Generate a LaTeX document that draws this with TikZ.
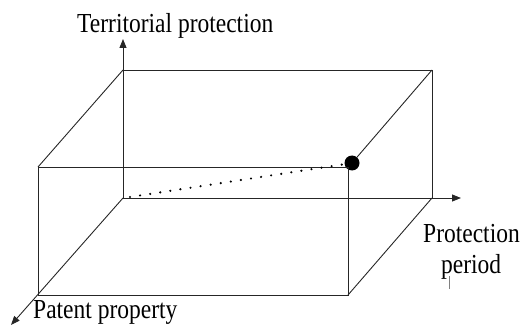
\documentclass[tikz,border=0pt]{standalone}
\usepackage{fontspec}
\setmainfont{Liberation Serif}
\usetikzlibrary{arrows.meta}
\newcommand{\tallText}[1]{\scalebox{1}[1.17]{#1}}
\begin{document}
\begin{tikzpicture}[x=1pt,y=-1pt,
  edge/.style={line width=0.9pt,draw=black!85},
  axis/.style={edge,-{Triangle[length=9pt,width=7pt]}},
  lbl/.style={inner sep=0pt,anchor=base west,font=\fontsize{23.5}{26}\selectfont},
  dotline/.style={line width=2.4pt,line cap=round,dash pattern=on 0pt off 10.2pt}]
\useasboundingbox (0,0) rectangle (522,326);
% back face corners
\coordinate (O) at (123,198);
\coordinate (BTL) at (123,70);
\coordinate (BTR) at (432,70);
\coordinate (BBR) at (432,198);
% front face corners
\coordinate (FTL) at (38,167);
\coordinate (FTR) at (348,167);
\coordinate (FBL) at (38,295);
\coordinate (FBR) at (348,295);
% axis ends
\coordinate (YT) at (123,39);
\coordinate (XT) at (461,198);
\coordinate (ZT) at (11,325);
\coordinate (DS) at (130,197);
\node[circle,fill=black,inner sep=0pt,minimum size=15pt] (P) at (352,163) {};
% back face
\draw[edge] (BTL) -- (BTR) -- (BBR);
% front face
\draw[edge] (FTL) -- (FTR) -- (FBR) -- (FBL) -- cycle;
% side edges
\draw[edge] (BTL) -- (FTL);
\draw[edge] (BTR) -- (P);
\draw[edge] (BBR) -- (FBR);
% axes
\draw[axis] (O) -- (YT);
\draw[axis] (O) -- (XT);
\draw[axis] (O) -- (ZT);
% dotted line
\draw[dotline] (DS) -- (P);
% labels
\node[lbl] (ty) at (77,33) {\tallText{Territorial protection}};
\node[lbl] (tx1) at (423,242) {\tallText{Protection}};
\node[lbl] (tx2) at (441,273) {\tallText{period}};
\node[lbl] (tz) at (33,318) {\tallText{Patent property}};
% stray cursor mark
\coordinate (C1) at (449,276);
\coordinate (C2) at (449,289);
\draw[line width=0.8pt,black!50] (C1) -- (C2);
\end{tikzpicture}
\end{document}
